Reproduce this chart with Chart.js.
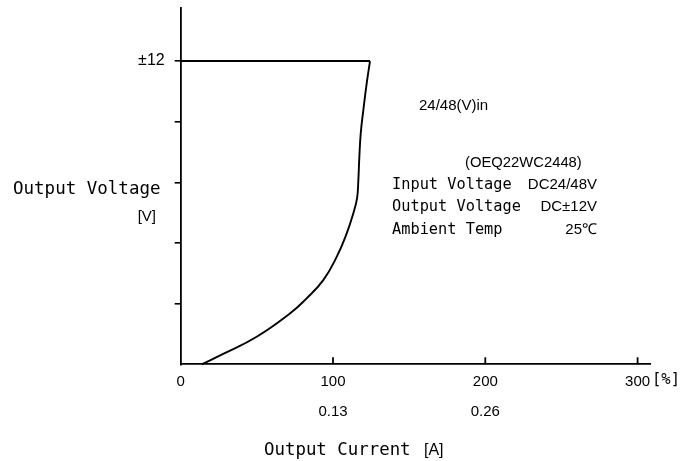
<!DOCTYPE html>
<html>
<head>
<meta charset="utf-8">
<script src="https://cdn.jsdelivr.net/npm/chart.js@4.4.1/dist/chart.umd.min.js"></script>
<style>
  html, body { margin: 0; padding: 0; background: #fff; }
  canvas { display: block; }
</style>
</head>
<body>
<canvas id="curva" width="684" height="461"></canvas>
<script>
// Datos (corriente en %, voltaje en V)
const corrientePct = [13.8, 27.9, 49.9, 71.7, 82.7, 93.6, 102.4, 109.0, 113.3, 115.8, 116.6, 117.3, 118.2, 119.9, 122.1, 124.3];
const voltaje      = [0,    0.41, 1.09, 2.01, 2.61, 3.33, 4.25,  5.18,  5.97,  6.58,  7.23,  8.21,  9.13,  10.05, 11.11, 12.0];

// Linea del limite superior (voltaje nominal)
const limitePct = [124.3, 0];
const limiteV   = [12, 12];

// Ticks de los ejes
const ticksX = [0, 100, 200, 300];
const amperesX = ['', '0.13', '0.26', ''];
const ticksY = [0, 2.4, 4.8, 7.2, 9.6, 12];
const etiquetasY = ['', '', '', '', '', '±12'];

const mono = '"DejaVu Sans Mono", "Liberation Mono", monospace';
const sans = '"Liberation Sans", Arial, sans-serif';

// Textos que no son ticks: titulos de ejes y notas
const textosPlugin = {
    id: 'textos',
    afterDraw(chart) {
        const { ctx, scales: { x, y } } = chart;
        ctx.save();

        // Marcas del eje X hacia adentro
        ctx.strokeStyle = '#000';
        ctx.lineWidth = 1.8;
        x.ticks.forEach(t => {
            if (t.value === 0) return;
            const px = x.getPixelForValue(t.value);
            ctx.beginPath();
            ctx.moveTo(px, y.bottom);
            ctx.lineTo(px, y.bottom - 7);
            ctx.stroke();
        });

        ctx.fillStyle = '#000';
        ctx.textBaseline = 'alphabetic';

        // Titulo eje Y
        ctx.textAlign = 'left';
        ctx.font = '17.5px ' + mono;
        ctx.fillText('Output Voltage', 13, 194);
        ctx.textAlign = 'right';
        ctx.font = '15px ' + sans;
        ctx.fillText('[V]', 156, 221);

        // Titulo eje X
        ctx.textAlign = 'left';
        ctx.font = '17.4px ' + mono;
        ctx.fillText('Output Current', 264, 455);
        ctx.font = '16px ' + sans;
        ctx.fillText('[A]', 424, 455);

        // Unidad de porcentaje junto al 300
        ctx.font = '15.5px ' + mono;
        ctx.fillText('[%]', 652, 384);

        // Notas
        ctx.font = '15px ' + sans;
        ctx.fillText('24/48(V)in', 419, 110);
        ctx.font = '14.8px ' + sans;
        ctx.fillText('(OEQ22WC2448)', 465, 167);

        ctx.font = '15.3px ' + mono;
        ctx.fillText('Input Voltage', 392, 189);
        ctx.fillText('Output Voltage', 392, 211);
        ctx.fillText('Ambient Temp', 392, 234);

        ctx.textAlign = 'right';
        ctx.font = '15px ' + sans;
        ctx.fillText('DC24/48V', 597, 189);
        ctx.fillText('DC±12V', 597, 211);
        ctx.fillText('25℃', 597, 234);

        ctx.restore();
    }
};

const ctx = document.getElementById('curva');
new Chart(ctx, {
    type: 'line',
    data: {
        datasets: [{
            data: corrientePct.map((c, i) => ({ x: c, y: voltaje[i] })),
            borderColor: '#000',
            borderWidth: 1.9,
            pointRadius: 0,
            fill: false,
            tension: 0.45,
            clip: false
        }, {
            data: limitePct.map((c, i) => ({ x: c, y: limiteV[i] })),
            borderColor: '#000',
            borderWidth: 1.9,
            pointRadius: 0,
            fill: false,
            tension: 0,
            clip: false
        }]
    },
    options: {
        responsive: false,
        animation: false,
        devicePixelRatio: 1,
        layout: { padding: { left: 0, top: 8, right: 33.3, bottom: 0 } },
        plugins: {
            legend: { display: false },
            tooltip: { enabled: false }
        },
        scales: {
            x: {
                type: 'linear',
                position: 'bottom',
                min: 0,
                max: 308.6,
                afterFit: s => { s.height = 96.7; },
                afterBuildTicks: s => { s.ticks = ticksX.map(v => ({ value: v })); },
                grid: { display: false },
                border: { display: true, color: '#000', width: 1.8 },
                ticks: {
                    color: '#000',
                    padding: -5,
                    maxRotation: 0,
                    autoSkip: false,
                    font: { family: sans, size: 15, lineHeight: 2.0 },
                    callback: (v, i) => amperesX[i] ? [String(v), amperesX[i]] : String(v)
                }
            },
            y: {
                type: 'linear',
                position: 'left',
                min: 0,
                max: 14.1,
                afterFit: s => { s.width = 180.7; s.paddingTop = 0; s.paddingBottom = 0; },
                afterBuildTicks: s => { s.ticks = ticksY.map(v => ({ value: v })); },
                grid: {
                    drawOnChartArea: false,
                    drawTicks: true,
                    tickLength: 6,
                    lineWidth: 1.6,
                    color: c => (c.tick && c.tick.value === 0) ? 'rgba(0,0,0,0)' : '#000'
                },
                border: { display: true, color: '#000', width: 1.8 },
                ticks: {
                    color: '#000',
                    padding: 10,
                    autoSkip: false,
                    font: { family: sans, size: 16 },
                    callback: (v, i) => etiquetasY[i]
                }
            }
        }
    },
    plugins: [textosPlugin]
});
</script>
</body>
</html>
